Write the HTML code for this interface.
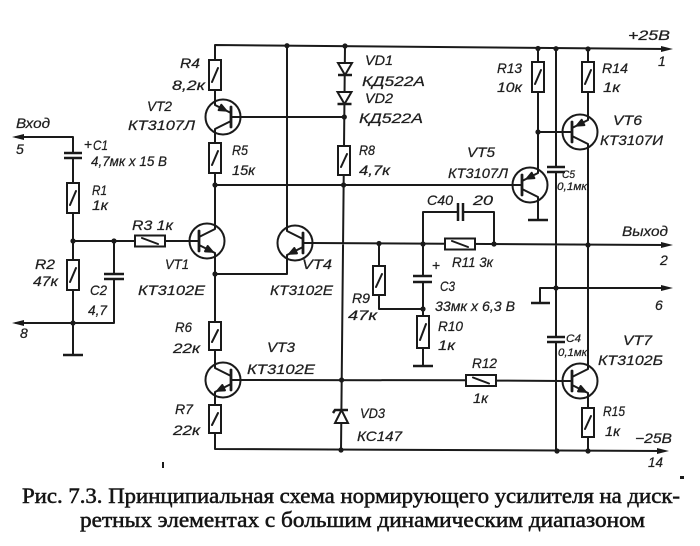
<!DOCTYPE html>
<html><head><meta charset="utf-8"><style>
html,body{margin:0;padding:0;background:#fff;}
svg{display:block;}
.w{fill:none;stroke:#1a1a1a;stroke-width:2;stroke-linecap:round;stroke-linejoin:round;}
.c{fill:#fff;stroke:#1a1a1a;stroke-width:2;}
.p{fill:none;stroke:#1a1a1a;stroke-width:2.5;}
.d{fill:#1a1a1a;}
.t{font-family:"Liberation Sans","DejaVu Sans",sans-serif;font-style:italic;font-size:14px;fill:#1f1f1f;stroke:#1f1f1f;stroke-width:0.25;}
.s{font-size:11px;}
.cap{font-family:"Liberation Serif","DejaVu Serif",serif;font-size:22px;fill:#151515;stroke:#151515;stroke-width:0.55;}
</style></head><body>
<svg width="700" height="546" viewBox="0 0 700 546" xmlns="http://www.w3.org/2000/svg">
<rect width="700" height="546" fill="#fff"/>

<!-- wires -->
<path class="w" d="
M16,137 H73 V153 M73,158 V183 M73,213 V260 M73,290 V355
M73,241 H135 M165,241 H189.5
M114,241 V274 M114,279 V323 H16
M215,60 V45 L668,49
M215,90 V101.4 M215,132.6 V143 M215,173 V225.4 M215,256.6 V322 M215,350 V364.4 M215,395.6 V405 M215,433 V449 L664,451
M215,185 L512.5,185
M215,274 H287 V258.6
M287,45.7 V227.4
M312.5,243 L668,245
M345,46 L341,451
M240.5,117 H344.3
M240.5,380 L466,380.3 M496,380.6 L562.5,381
M538,48.5 V62 M538,92 V169.4 M538,200.6 V220
M538,132 H562.5
M588,49 V62 M588,92 V116.4 M588,147.6 V365.4 M588,396.6 V408 M588,437 V451
M556,48.7 V167 M556,172 V337 M556,342 V451
M540,303 V288 L668,288
M423,244 V212 H458 M463,212 H494 V244
M379,243.5 V266 M379,295 V309 H423
M423,244 V276 M423,282 V316 M423,348 V366
"/>
<!-- ground bars -->
<path class="p" d="M63,355 H83 M528,220 H548 M531,303 H550 M413,366 H433"/>

<!-- capacitors -->
<path class="p" d="M64,153 H82 M64,158 H82 M104,274 H124 M104,279 H124 M413,276 H432 M413,282 H432 M547,167 H565 M547,172 H565 M547,337 H565 M547,342 H565 M458,203 V221 M463,203 V221"/>

<!-- resistors -->
<g class="c">
<rect x="209" y="60" width="12" height="30"/>
<rect x="209" y="143" width="12" height="30"/>
<rect x="67" y="183" width="12" height="30"/>
<rect x="67" y="260" width="12" height="30"/>
<rect x="209" y="322" width="12" height="28"/>
<rect x="209" y="405" width="12" height="28"/>
<rect x="338" y="146" width="12" height="29"/>
<rect x="373" y="266" width="12" height="29"/>
<rect x="417" y="316" width="12" height="32"/>
<rect x="532" y="62" width="12" height="30"/>
<rect x="582" y="62" width="12" height="30"/>
<rect x="582" y="408" width="12" height="29"/>
<rect x="135" y="235.5" width="30" height="11"/>
<rect x="445" y="238.5" width="30" height="11"/>
<rect x="466" y="375" width="30" height="11"/>
</g>
<path class="w" d="
M212,82 L218,68 M212,165 L218,151 M70,205 L76,191 M70,282 L76,268 M212,342 L218,330 M212,425 L218,413
M341,167 L347,154 M376,287 L382,274 M420,340 L426,324 M535,84 L541,70 M585,84 L591,70 M585,429 L591,416
M142,238 L158,244 M452,241 L468,247 M473,377.5 L489,383.5"/>

<!-- diodes -->
<path class="c" d="M338,63 H352 L345,75 Z M337.5,92 H351.5 L344.5,104 Z M335,423 H348 L341.5,410 Z"/>
<path class="p" d="M338,75 H352 M337.5,104 H351.5 M333,413 L335,410 H348"/>

<!-- transistors -->
<g class="w">
<g transform="translate(207,241)"><circle r="17.5"/><line x1="-17.5" y1="0" x2="-8" y2="0"/><line x1="-8" y1="-10" x2="-8" y2="10" stroke-width="2.8"/><polyline points="-8,-4 8,-12 8,-16"/><polyline points="-8,4 8,12 8,16"/><polygon class="d" points="5.6,10.8 -1.98,10.36 0.7,5.0"/></g>
<g transform="translate(223,117) scale(-1,1)"><circle r="17.5"/><line x1="-17.5" y1="0" x2="-8" y2="0"/><line x1="-8" y1="-10" x2="-8" y2="10" stroke-width="2.8"/><polyline points="-8,-4 8,-12 8,-16"/><polyline points="-8,4 8,12 8,16"/><polygon class="d" points="-3.2,-6.4 4.38,-6.84 1.7,-12.2"/></g>
<g transform="translate(223,380) scale(-1,1)"><circle r="17.5"/><line x1="-17.5" y1="0" x2="-8" y2="0"/><line x1="-8" y1="-10" x2="-8" y2="10" stroke-width="2.8"/><polyline points="-8,-4 8,-12 8,-16"/><polyline points="-8,4 8,12 8,16"/><polygon class="d" points="5.6,10.8 -1.98,10.36 0.7,5.0"/></g>
<g transform="translate(295,243) scale(-1,1)"><circle r="17.5"/><line x1="-17.5" y1="0" x2="-8" y2="0"/><line x1="-8" y1="-10" x2="-8" y2="10" stroke-width="2.8"/><polyline points="-8,-4 8,-12 8,-16"/><polyline points="-8,4 8,12 8,16"/><polygon class="d" points="5.6,10.8 -1.98,10.36 0.7,5.0"/></g>
<g transform="translate(530,185)"><circle r="17.5"/><line x1="-17.5" y1="0" x2="-8" y2="0"/><line x1="-8" y1="-10" x2="-8" y2="10" stroke-width="2.8"/><polyline points="-8,-4 8,-12 8,-16"/><polyline points="-8,4 8,12 8,16"/><polygon class="d" points="-3.2,-6.4 4.38,-6.84 1.7,-12.2"/></g>
<g transform="translate(580,132)"><circle r="17.5"/><line x1="-17.5" y1="0" x2="-8" y2="0"/><line x1="-8" y1="-10" x2="-8" y2="10" stroke-width="2.8"/><polyline points="-8,-4 8,-12 8,-16"/><polyline points="-8,4 8,12 8,16"/><polygon class="d" points="-3.2,-6.4 4.38,-6.84 1.7,-12.2"/></g>
<g transform="translate(580,381)"><circle r="17.5"/><line x1="-17.5" y1="0" x2="-8" y2="0"/><line x1="-8" y1="-10" x2="-8" y2="10" stroke-width="2.8"/><polyline points="-8,-4 8,-12 8,-16"/><polyline points="-8,4 8,12 8,16"/><polygon class="d" points="5.6,10.8 -1.98,10.36 0.7,5.0"/></g>
</g>

<!-- dots and arrows -->
<g class="d">
<circle cx="73" cy="241" r="2.6"/><circle cx="114" cy="241" r="2.6"/><circle cx="73" cy="323" r="2.6"/>
<circle cx="215" cy="185" r="2.6"/><circle cx="215" cy="274" r="2.6"/><circle cx="287" cy="45.7" r="2.6"/>
<circle cx="345" cy="46" r="2.6"/><circle cx="344.3" cy="117" r="2.6"/><circle cx="343.6" cy="185" r="2.6"/>
<circle cx="379" cy="243.5" r="2.6"/><circle cx="423" cy="244" r="2.6"/><circle cx="494" cy="244" r="2.6"/>
<circle cx="588" cy="245" r="2.6"/><circle cx="423" cy="309" r="2.6"/><circle cx="341.6" cy="380" r="2.6"/>
<circle cx="341" cy="450" r="2.6"/><circle cx="538" cy="48.5" r="2.6"/><circle cx="556" cy="48.7" r="2.6"/>
<circle cx="588" cy="49" r="2.6"/><circle cx="538" cy="132" r="2.6"/><circle cx="556" cy="288" r="2.6"/>
<circle cx="557" cy="451" r="2.6"/><circle cx="588" cy="451" r="2.6"/>
<polygon points="673,49 661,46 661,52"/>
<polygon points="673,245 661,242 661,248"/>
<polygon points="673,288 661,285 661,291"/>
<polygon points="669,451 657,448 657,454"/>
<polygon points="12,137 24,134 24,140"/>
<polygon points="12,323 24,320 24,326"/>
<rect x="162" y="462" width="2" height="6"/>
<rect x="680" y="476" width="4" height="3"/>
</g>

<!-- labels -->
<g class="t">
<text x="180" y="68" textLength="20" lengthAdjust="spacingAndGlyphs">R4</text>
<text x="172" y="90" textLength="33" lengthAdjust="spacingAndGlyphs">8,2к</text>
<text x="147" y="111" textLength="25" lengthAdjust="spacingAndGlyphs">VT2</text>
<text x="128" y="130" textLength="67" lengthAdjust="spacingAndGlyphs">КТ3107Л</text>
<text x="16" y="128" textLength="34" lengthAdjust="spacingAndGlyphs">Вход</text>
<text x="16" y="154">5</text>
<text x="84" y="149" style="font-style:normal">+</text>
<text x="93" y="150" textLength="15" lengthAdjust="spacingAndGlyphs">C1</text>
<text x="91" y="166" textLength="76" lengthAdjust="spacingAndGlyphs">4,7мк х 15 В</text>
<text x="92" y="195" textLength="15" lengthAdjust="spacingAndGlyphs">R1</text>
<text x="92" y="210" textLength="16" lengthAdjust="spacingAndGlyphs">1к</text>
<text x="232" y="155" textLength="16" lengthAdjust="spacingAndGlyphs">R5</text>
<text x="232" y="175" textLength="23" lengthAdjust="spacingAndGlyphs">15к</text>
<text x="132" y="230" textLength="41" lengthAdjust="spacingAndGlyphs">R3 1к</text>
<text x="35" y="269" textLength="20" lengthAdjust="spacingAndGlyphs">R2</text>
<text x="33" y="286" textLength="25" lengthAdjust="spacingAndGlyphs">47к</text>
<text x="90" y="295" textLength="17" lengthAdjust="spacingAndGlyphs">C2</text>
<text x="88" y="315" textLength="19" lengthAdjust="spacingAndGlyphs">4,7</text>
<text x="20" y="338">8</text>
<text x="165" y="269" textLength="24" lengthAdjust="spacingAndGlyphs">VT1</text>
<text x="138" y="295" textLength="67" lengthAdjust="spacingAndGlyphs">КТ3102Е</text>
<text x="302" y="269" textLength="30" lengthAdjust="spacingAndGlyphs">VT4</text>
<text x="270" y="295" textLength="63" lengthAdjust="spacingAndGlyphs">КТ3102Е</text>
<text x="175" y="332" textLength="17" lengthAdjust="spacingAndGlyphs">R6</text>
<text x="173" y="353" textLength="27" lengthAdjust="spacingAndGlyphs">22к</text>
<text x="267" y="352" textLength="28" lengthAdjust="spacingAndGlyphs">VT3</text>
<text x="247" y="374" textLength="68" lengthAdjust="spacingAndGlyphs">КТ3102Е</text>
<text x="175" y="414" textLength="18" lengthAdjust="spacingAndGlyphs">R7</text>
<text x="173" y="435" textLength="27" lengthAdjust="spacingAndGlyphs">22к</text>
<text x="365" y="65" textLength="28" lengthAdjust="spacingAndGlyphs">VD1</text>
<text x="362" y="86" textLength="63" lengthAdjust="spacingAndGlyphs">КД522А</text>
<text x="365" y="103" textLength="28" lengthAdjust="spacingAndGlyphs">VD2</text>
<text x="359" y="123" textLength="64" lengthAdjust="spacingAndGlyphs">КД522А</text>
<text x="359" y="155" textLength="16" lengthAdjust="spacingAndGlyphs">R8</text>
<text x="359" y="175" textLength="31" lengthAdjust="spacingAndGlyphs">4,7к</text>
<text x="467" y="157" textLength="28" lengthAdjust="spacingAndGlyphs">VT5</text>
<text x="448" y="178" textLength="60" lengthAdjust="spacingAndGlyphs">КТ3107Л</text>
<text x="427" y="205" textLength="26" lengthAdjust="spacingAndGlyphs">C40</text>
<text x="473" y="205" textLength="20" lengthAdjust="spacingAndGlyphs">20</text>
<text x="497" y="73" textLength="25" lengthAdjust="spacingAndGlyphs">R13</text>
<text x="497" y="92" textLength="25" lengthAdjust="spacingAndGlyphs">10к</text>
<text x="602" y="73" textLength="26" lengthAdjust="spacingAndGlyphs">R14</text>
<text x="603" y="92" textLength="17" lengthAdjust="spacingAndGlyphs">1к</text>
<text x="628" y="40" textLength="42" lengthAdjust="spacingAndGlyphs">+25В</text>
<text x="658" y="66">1</text>
<text x="613" y="125" textLength="29" lengthAdjust="spacingAndGlyphs">VT6</text>
<text x="600" y="145" textLength="63" lengthAdjust="spacingAndGlyphs">КТ3107И</text>
<text x="562" y="178" textLength="13" lengthAdjust="spacingAndGlyphs" class="s">C5</text>
<text x="557" y="190" textLength="30" lengthAdjust="spacingAndGlyphs" class="s">0,1мк</text>
<text x="622" y="236" textLength="46" lengthAdjust="spacingAndGlyphs">Выход</text>
<text x="660" y="265">2</text>
<text x="452" y="267" textLength="41" lengthAdjust="spacingAndGlyphs">R11 3к</text>
<text x="352" y="303" textLength="18" lengthAdjust="spacingAndGlyphs">R9</text>
<text x="348" y="320" textLength="29" lengthAdjust="spacingAndGlyphs">47к</text>
<text x="432" y="270" style="font-style:normal">+</text>
<text x="440" y="291" textLength="15" lengthAdjust="spacingAndGlyphs">C3</text>
<text x="435" y="311" textLength="80" lengthAdjust="spacingAndGlyphs">33мк х 6,3 В</text>
<text x="438" y="331" textLength="25" lengthAdjust="spacingAndGlyphs">R10</text>
<text x="438" y="350" textLength="17" lengthAdjust="spacingAndGlyphs">1к</text>
<text x="472" y="368" textLength="25" lengthAdjust="spacingAndGlyphs">R12</text>
<text x="473" y="403" textLength="15" lengthAdjust="spacingAndGlyphs">1к</text>
<text x="360" y="418" textLength="25" lengthAdjust="spacingAndGlyphs">VD3</text>
<text x="357" y="441" textLength="45" lengthAdjust="spacingAndGlyphs">КС147</text>
<text x="566" y="342" textLength="15" lengthAdjust="spacingAndGlyphs" class="s">C4</text>
<text x="558" y="356" textLength="29" lengthAdjust="spacingAndGlyphs" class="s">0,1мк</text>
<text x="623" y="345" textLength="29" lengthAdjust="spacingAndGlyphs">VT7</text>
<text x="598" y="365" textLength="65" lengthAdjust="spacingAndGlyphs">КТ3102Б</text>
<text x="603" y="416" textLength="22" lengthAdjust="spacingAndGlyphs">R15</text>
<text x="605" y="436" textLength="15" lengthAdjust="spacingAndGlyphs">1к</text>
<text x="635" y="443" textLength="37" lengthAdjust="spacingAndGlyphs">−25В</text>
<text x="648" y="467" textLength="15" lengthAdjust="spacingAndGlyphs">14</text>
<text x="655" y="310">6</text>
</g>

<!-- caption -->
<text class="cap" x="22" y="503" textLength="658" lengthAdjust="spacingAndGlyphs">Рис. 7.3. Принципиальная схема нормирующего усилителя на диск-</text>
<text class="cap" x="80" y="527" textLength="565" lengthAdjust="spacingAndGlyphs">ретных элементах с большим динамическим диапазоном</text>
</svg>
</body></html>
